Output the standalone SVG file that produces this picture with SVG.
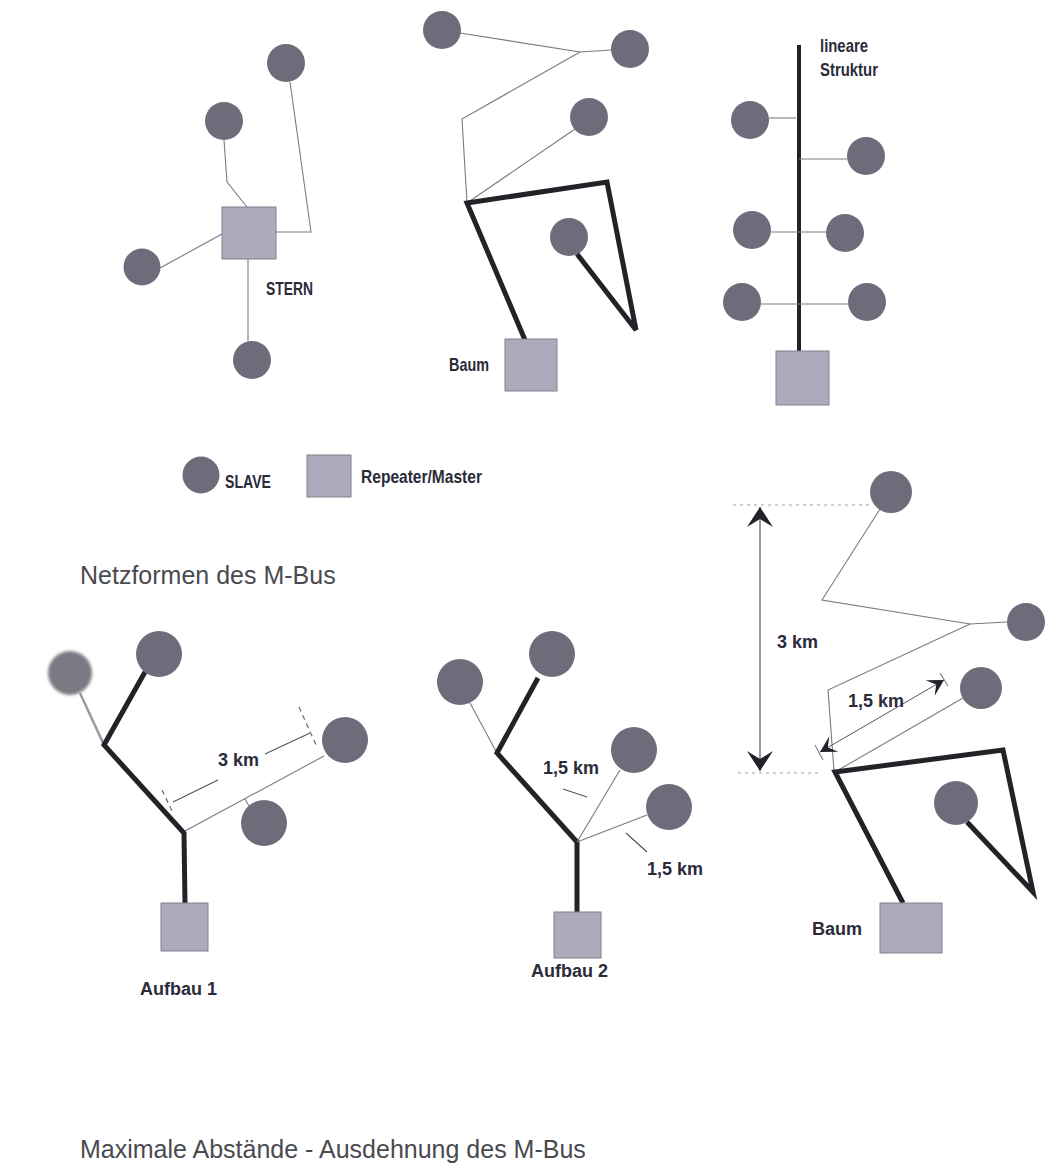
<svg xmlns="http://www.w3.org/2000/svg" width="1045" height="1167" viewBox="0 0 1045 1167">
<defs>
<style>
.s{fill:#6c6c7a;}
.m{fill:#ababbb;stroke:#80808c;stroke-width:1;}
.thin{fill:none;stroke:#7a7a86;stroke-width:1.1;}
.thick{fill:none;stroke:#222228;stroke-width:5;stroke-linejoin:miter;}
.dot{fill:none;stroke:#a0a0a8;stroke-width:1;stroke-dasharray:3 4;}
.dash{fill:none;stroke:#6a6a74;stroke-width:1.2;stroke-dasharray:5 4;}
.dim{fill:none;stroke:#55555e;stroke-width:1.2;}
.cn{font-family:"Liberation Sans",Arial,sans-serif;font-weight:bold;font-size:18.5px;fill:#2b2b3a;}
.lb{font-family:"Liberation Sans",Arial,sans-serif;font-weight:bold;font-size:18px;fill:#2b2b3a;}
.cap{font-family:"Liberation Sans",Arial,sans-serif;font-size:25px;fill:#4a4a50;}
</style>
<marker id="ah" viewBox="-22 -14 24 28" markerWidth="24" markerHeight="28" refX="0" refY="0" orient="auto-start-reverse" markerUnits="userSpaceOnUse">
<path d="M0,0 L-20,-13 L-12,0 L-20,13 Z" fill="#222228"/>
</marker>
<marker id="ah2" viewBox="-18 -11 20 22" markerWidth="20" markerHeight="22" refX="0" refY="0" orient="auto-start-reverse" markerUnits="userSpaceOnUse">
<path d="M0,0 L-16,-9 L-9,0 L-16,9 Z" fill="#222228"/>
</marker>
<filter id="blur" x="-20%" y="-20%" width="140%" height="140%"><feGaussianBlur stdDeviation="1.6"/></filter>
</defs>
<rect width="1045" height="1167" fill="#ffffff"/>

<g id="connectors">
<!-- STERN -->
<polyline class="thin" points="224,140 227,182 247,207"/>
<polyline class="thin" points="290,82 311,232 276,232"/>
<line class="thin" x1="160" y1="268" x2="222" y2="234"/>
<line class="thin" x1="248" y1="259" x2="248" y2="341"/>
<!-- Baum top -->
<line class="thin" x1="460" y1="33" x2="580" y2="52"/>
<line class="thin" x1="580" y1="52" x2="611" y2="50"/>
<polyline class="thin" points="580,52 462,119 467,203"/>
<line class="thin" x1="575" y1="129" x2="467" y2="203"/>
<polyline class="thick" points="525,340 467,203 607,182 636,330 577,254"/>
<!-- lineare Struktur -->
<line x1="799" y1="45" x2="799" y2="352" stroke="#222228" stroke-width="4"/>
<line class="thin" x1="769" y1="118" x2="796" y2="118"/>
<line class="thin" x1="799" y1="159" x2="847" y2="159"/>
<line class="thin" x1="771" y1="232" x2="826" y2="232"/>
<line class="thin" x1="761" y1="304" x2="848" y2="304"/>
<!-- Aufbau 1 -->
<line x1="80" y1="693" x2="104" y2="745" stroke="#9a9aa2" stroke-width="2.5"/>
<polyline class="thick" points="145,672 104,745 184,833 185,904"/>
<line class="thin" x1="185" y1="831" x2="324" y2="756"/>
<line class="thin" x1="245" y1="799" x2="249" y2="806"/>
<line class="dash" x1="162" y1="790" x2="173" y2="813"/>
<line class="dash" x1="299" y1="707" x2="317" y2="747"/>
<line class="dim" x1="173" y1="802" x2="218" y2="780"/>
<line class="dim" x1="265" y1="754" x2="310" y2="733"/>
<!-- Aufbau 2 -->
<line class="thin" x1="470" y1="703" x2="497" y2="753"/>
<polyline class="thick" points="538,678 497,753 577,842 577,912"/>
<line class="thin" x1="577" y1="842" x2="620" y2="770"/>
<line class="thin" x1="577" y1="842" x2="647" y2="815"/>
<line class="dim" x1="563" y1="789" x2="587" y2="797"/>
<line class="dim" x1="626" y1="833" x2="647" y2="852"/>
<!-- Baum bottom right -->
<line class="dot" x1="733" y1="505" x2="870" y2="505"/>
<line class="dot" x1="738" y1="773" x2="822" y2="773"/>
<line x1="760" y1="507" x2="760" y2="771" stroke="#55555e" stroke-width="1.2" marker-start="url(#ah)" marker-end="url(#ah)"/>
<polyline class="thin" points="880,509 822,600 970,624 1007,622"/>
<polyline class="thin" points="970,624 828,690 834,771"/>
<line class="thin" x1="835" y1="772" x2="963" y2="698"/>
<line class="thin" x1="815" y1="745" x2="823" y2="760"/>
<line class="thin" x1="940" y1="673" x2="948" y2="686"/>
<line x1="820" y1="752" x2="944" y2="680" stroke="#55555e" stroke-width="1" marker-start="url(#ah2)" marker-end="url(#ah2)"/>
<polyline class="thick" points="903,903 835,772 1003,750 1033,892 967,822"/>
</g>

<g id="stern">
<g id="stern-master"><rect class="m" x="222" y="207" width="54" height="52"/></g>
<g id="stern-slave-1"><circle class="s" cx="286" cy="63" r="19"/></g>
<g id="stern-slave-2"><circle class="s" cx="224" cy="121" r="19"/></g>
<g id="stern-slave-3"><circle class="s" cx="142" cy="267" r="18.5"/></g>
<g id="stern-slave-4"><circle class="s" cx="252" cy="360" r="19"/></g>
<text class="cn" x="266" y="295" textLength="47" lengthAdjust="spacingAndGlyphs">STERN</text>
</g>

<g id="baum-top">
<g id="baum-top-master"><rect class="m" x="505" y="339" width="52" height="52"/></g>
<g id="baum-top-slave-1"><circle class="s" cx="442" cy="30" r="19"/></g>
<g id="baum-top-slave-2"><circle class="s" cx="630" cy="49" r="19"/></g>
<g id="baum-top-slave-3"><circle class="s" cx="589" cy="117" r="19"/></g>
<g id="baum-top-slave-4"><circle class="s" cx="569" cy="237" r="19"/></g>
<text class="cn" x="449" y="371" textLength="40" lengthAdjust="spacingAndGlyphs">Baum</text>
</g>

<g id="linear">
<g id="linear-master"><rect class="m" x="776" y="351" width="53" height="54"/></g>
<g id="linear-slave-1"><circle class="s" cx="750" cy="120" r="19"/></g>
<g id="linear-slave-2"><circle class="s" cx="866" cy="156" r="19"/></g>
<g id="linear-slave-3"><circle class="s" cx="752" cy="230" r="19"/></g>
<g id="linear-slave-4"><circle class="s" cx="845" cy="233" r="19"/></g>
<g id="linear-slave-5"><circle class="s" cx="742" cy="302" r="19"/></g>
<g id="linear-slave-6"><circle class="s" cx="867" cy="302" r="19"/></g>
<text class="cn" x="820" y="52" textLength="48" lengthAdjust="spacingAndGlyphs">lineare</text>
<text class="cn" x="820" y="76" textLength="58" lengthAdjust="spacingAndGlyphs">Struktur</text>
</g>

<g id="legend">
<g id="legend-slave"><circle class="s" cx="201" cy="475" r="18.5"/><text class="cn" x="225" y="488" textLength="46" lengthAdjust="spacingAndGlyphs">SLAVE</text></g>
<g id="legend-master"><rect class="m" x="307" y="455" width="44" height="42"/><text class="cn" x="361" y="483" textLength="121" lengthAdjust="spacingAndGlyphs">Repeater/Master</text></g>
</g>

<text class="cap" x="80" y="584">Netzformen des M-Bus</text>

<g id="aufbau1">
<g id="aufbau1-master"><rect class="m" x="161" y="903" width="47" height="48"/></g>
<g id="aufbau1-slave-1"><circle cx="70" cy="673" r="22" fill="#7a7a84" filter="url(#blur)"/></g>
<g id="aufbau1-slave-2"><circle class="s" cx="159" cy="654" r="23"/></g>
<g id="aufbau1-slave-3"><circle class="s" cx="345" cy="740" r="23"/></g>
<g id="aufbau1-slave-4"><circle class="s" cx="264" cy="823" r="23"/></g>
<text class="lb" x="218" y="766">3 km</text>
<text class="lb" x="140" y="995">Aufbau 1</text>
</g>

<g id="aufbau2">
<g id="aufbau2-master"><rect class="m" x="554" y="912" width="47" height="46"/></g>
<g id="aufbau2-slave-1"><circle class="s" cx="460" cy="682" r="23"/></g>
<g id="aufbau2-slave-2"><circle class="s" cx="552" cy="654" r="23"/></g>
<g id="aufbau2-slave-3"><circle class="s" cx="634" cy="750" r="23"/></g>
<g id="aufbau2-slave-4"><circle class="s" cx="669" cy="807" r="23"/></g>
<text class="lb" x="543" y="774">1,5 km</text>
<text class="lb" x="647" y="875">1,5 km</text>
<text class="lb" x="531" y="977">Aufbau 2</text>
</g>

<g id="baum-bottom">
<g id="baum-bottom-master"><rect class="m" x="880" y="903" width="62" height="50"/></g>
<g id="baum-bottom-slave-1"><circle class="s" cx="891" cy="492" r="21"/></g>
<g id="baum-bottom-slave-2"><circle class="s" cx="1026" cy="622" r="19"/></g>
<g id="baum-bottom-slave-3"><circle class="s" cx="981" cy="688" r="21"/></g>
<g id="baum-bottom-slave-4"><circle class="s" cx="956" cy="803" r="22"/></g>
<text class="lb" x="777" y="648">3 km</text>
<text class="lb" x="848" y="707">1,5 km</text>
<text class="lb" x="812" y="935">Baum</text>
</g>

<text class="cap" x="80" y="1158">Maximale Abstände - Ausdehnung des M-Bus</text>
</svg>
